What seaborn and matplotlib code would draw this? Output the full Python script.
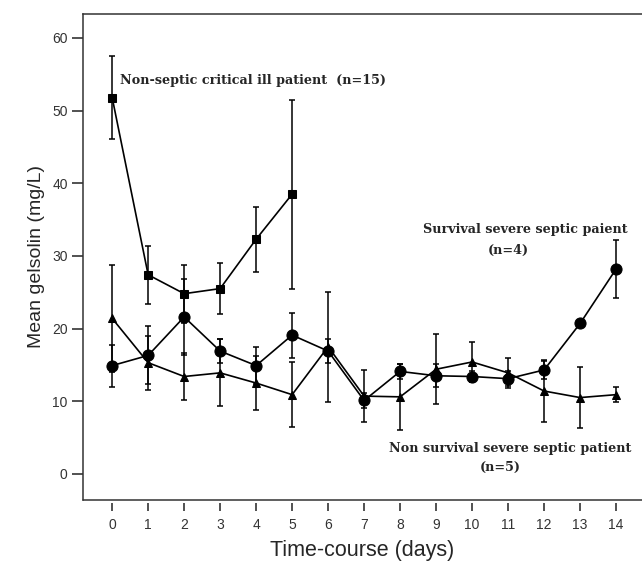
import numpy as np
import pandas as pd
import matplotlib
matplotlib.use('Agg')
import matplotlib.pyplot as plt
import seaborn as sns

# ── DATA ────────────────────────────────────────────────────
days_nonseptic = [0, 1, 2, 3, 4, 5]
mean_nonseptic = [51.8, 27.4, 24.8, 25.5, 32.3, 38.5]
err_nonseptic = [5.7, 4.0, 4.0, 3.5, 4.5, 13.0]

days_survival = list(range(15))
mean_survival = [14.9, 16.3, 21.6, 16.9, 14.9, 19.1, 16.9, 10.1, 14.1, 13.5,
                 13.4, 13.1, 14.3, 20.7, 28.2]
err_survival = [2.9, 4.0, 5.2, 1.6, 2.6, 3.1, 1.7, 1.0, 1.0, 1.6,
                0.7, 1.0, 1.3, np.nan, 4.0]

days_nonsurv = list(range(15))
mean_nonsurv = [21.4, 15.3, 13.4, 13.9, 12.5, 10.9, 17.5, 10.7, 10.6, 14.4,
                15.4, 13.9, 11.4, 10.5, 10.9]
err_nonsurv = [7.4, 3.7, 3.3, 4.6, 3.7, 4.5, 7.6, 3.6, 4.5, 4.8,
               2.7, 2.1, 4.3, 4.2, 1.0]

x_ticks = list(range(15))
y_ticks = [0, 10, 20, 30, 40, 50, 60]

# ── STYLE ───────────────────────────────────────────────────
sns.set_style('white')
plt.rcParams['font.family'] = ['Liberation Sans', 'DejaVu Sans']

fig = plt.figure(figsize=(6.42, 5.61), dpi=100)
ax = fig.add_axes([83 / 642, 61 / 561, 1 - 83 / 642, (500 - 14) / 561])

series = [
    (days_nonseptic, mean_nonseptic, err_nonseptic, 's', 6),
    (days_nonsurv, mean_nonsurv, err_nonsurv, '^', 5.5),
    (days_survival, mean_survival, err_survival, 'o', 8),
]
for d, m, e, mk, ms in series:
    df = pd.DataFrame({'day': d, 'mean': m})
    ax.errorbar(d, m, yerr=e, fmt='none', ecolor='black', elinewidth=1.1,
                capsize=2, capthick=1.1, zorder=2)
    sns.lineplot(data=df, x='day', y='mean', ax=ax, color='black',
                 linewidth=1.2, marker=mk, markersize=ms,
                 markeredgecolor='black', markerfacecolor='black', zorder=3)

# ── ANNOTATIONS ─────────────────────────────────────────────
lab_font = dict(family='DejaVu Serif', fontweight='bold', fontsize=9.2)
ax.text(0.22, 54.2, 'Non-septic critical ill patient  (n=15)',
        ha='left', va='center', **lab_font)
ax.text(11.47, 33.6, 'Survival severe septic paient',
        ha='center', va='center', **lab_font)
ax.text(11.0, 30.8, '(n=4)', ha='center', va='center', **lab_font)
ax.text(11.06, 3.5, 'Non survival severe septic patient',
        ha='center', va='center', **lab_font)
ax.text(10.78, 0.9, '(n=5)', ha='center', va='center', **lab_font)

# ── AXES ────────────────────────────────────────────────────
ax.set_xlim(-0.81, 14.72)
ax.set_ylim(-3.6, 63.3)
ax.set_xticks(x_ticks)
ax.set_yticks(y_ticks)
ax.set_xlabel('Time-course (days)', fontsize=15.5, labelpad=6)
ax.set_ylabel('Mean gelsolin (mg/L)', fontsize=14, labelpad=5)

frame_col = '#333333'
ax.spines['right'].set_visible(False)
for s in ['left', 'top']:
    ax.spines[s].set_color(frame_col)
    ax.spines[s].set_linewidth(1.1)
ax.spines['bottom'].set_visible(False)
ax.spines['bottom'].set_position(('outward', 2))
ax.plot([0, 1], [0, 0], transform=ax.transAxes, color=frame_col,
        linewidth=1.1, clip_on=False)

ax.tick_params(axis='x', direction='out', length=6, width=1.2,
               color=frame_col, labelsize=10, labelcolor='#333333', pad=5,
               bottom=True)
ax.tick_params(axis='y', direction='out', length=8, width=1.2,
               color=frame_col, labelsize=10, labelcolor='#333333', pad=3,
               left=True)

plt.savefig('out.png', dpi=100)
